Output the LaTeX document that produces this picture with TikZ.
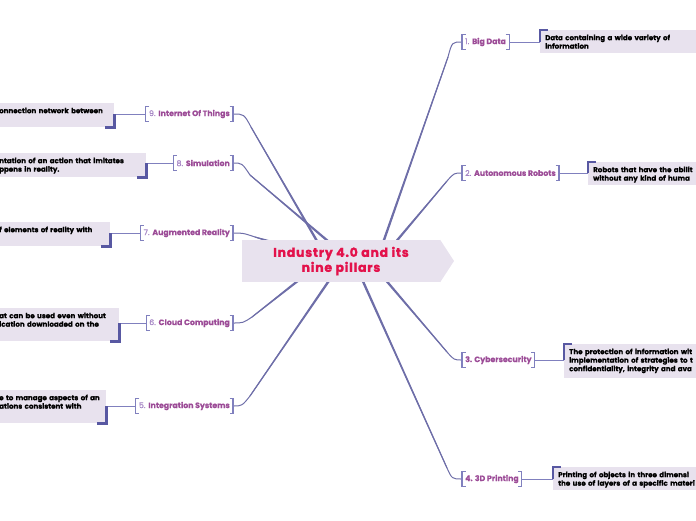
\documentclass[tikz,border=0pt]{standalone}
\usepackage{fontspec}
\setmainfont{Poppins}
\usetikzlibrary{calc,backgrounds}
\definecolor{lav}{HTML}{E8E2EE}
\definecolor{brkc}{HTML}{8080BE}
\definecolor{cornc}{HTML}{5858A2}
\definecolor{connc}{HTML}{6E6EA8}
\definecolor{ptxt}{HTML}{9C4C97}
\definecolor{pnum}{HTML}{A484C4}
\definecolor{ttl}{HTML}{E3124B}
\tikzset{
 title/.style={fill=lav, minimum width=198pt, minimum height=42pt, inner sep=0pt, align=center, text=ttl, font=\bfseries\fontsize{12.5}{15}\selectfont\addfontfeatures{LetterSpace=6,FakeBold=1.5}},
 pillar/.style={text=ptxt, font=\fontsize{7.8}{9}\selectfont\addfontfeatures{FakeBold=0.4}, inner xsep=3pt, inner ysep=0pt, minimum height=15pt},
 detail/.style={fill=lav, text=black, font=\bfseries\fontsize{7.1}{8.5}\selectfont\addfontfeatures{FakeBold=0.6}, align=left, anchor=north west, inner xsep=5pt, inner ysep=3pt, text height=7pt},
 brk/.style={draw=brkc, line width=1.1pt},
 cornerL/.style={draw=cornc, line width=2.4pt},
 connline/.style={draw=connc, line width=1pt},
 connthin/.style={draw=brkc, line width=1pt},
}
\newcommand\brackets[1]{%
 \draw[brk] ([xshift=3.5pt]#1.north west) -- (#1.north west) -- (#1.south west) -- ([xshift=3.5pt]#1.south west);
 \draw[brk] ([xshift=-3.5pt]#1.north east) -- (#1.north east) -- (#1.south east) -- ([xshift=-3.5pt]#1.south east);}
\newcommand\conn[5]{%
 \coordinate (K) at ($(#2)+(#3,#4)$);
 \coordinate (M) at ($(#2)+(#5,0)$);
 \fill[connc] ($(#1)!1.2pt!90:(K)$) -- ($(K)!0.5pt!-90:(#1)$) -- ($(K)!0.5pt!90:(#1)$) -- ($(#1)!1.2pt!-90:(K)$) -- cycle;
 \draw[connline] (#1) -- (K) .. controls (M) .. (#2);}
\newcommand\linkR[2]{%
 \draw[connthin] (#1.east) -- (#1.east -| #2.west);
 \draw[cornerL] (#1.east -| #2.west) -- (#2.north west) -- ([xshift=8pt]#2.north west);}
\newcommand\linkL[2]{%
 \draw[connthin] (#1.west) -- (#1.west -| #2.east);
 \draw[cornerL] (#1.west -| #2.east) -- (#2.south east) -- ([xshift=-9pt]#2.south east);}
\begin{document}
\begin{tikzpicture}[x=1pt,y=-1pt]
\useasboundingbox (0,0) rectangle (696,520);
\clip (0,0) rectangle (696,520);
% central topic
\node[title] (c) at (341,261) {Industry 4.0 and its\\nine pillars};
\fill[lav] (c.north east) -- (454,261) -- (c.south east) -- cycle;
% pillars
\node[pillar, anchor=west] (b1) at (462,42) {\textcolor{pnum}{1.} \textbf{Big Data}};
\node[pillar, anchor=west] (b2) at (462,173) {\textcolor{pnum}{2.} \textbf{Autonomous Robots}};
\node[pillar, anchor=west] (b3) at (462,360) {\textbf{3. Cybersecurity}};
\node[pillar, anchor=west] (b4) at (462,479) {\textbf{4. 3D Printing}};
\node[pillar, anchor=east] (b9) at (233,114) {\textcolor{pnum}{9.} \textbf{Internet Of Things}};
\node[pillar, anchor=east] (b8) at (233,163) {\textcolor{pnum}{8.} \textbf{Simulation}};
\node[pillar, anchor=east] (b7) at (233,233) {\textcolor{pnum}{7.} \textbf{Augmented Reality}};
\node[pillar, anchor=east] (b6) at (233,323) {\textcolor{pnum}{6.} \textbf{Cloud Computing}};
\node[pillar, anchor=east] (b5) at (233,406) {\textcolor{pnum}{5.} \textbf{Integration Systems}};
\foreach \b in {b1,b2,b3,b4,b5,b6,b7,b8,b9} {\brackets{\b}}
% details right
\node[detail, text width=190pt, text depth=10pt] (d1) at (540,30) {Data containing a wide variety of\\information};
\node[detail, text width=190pt, text depth=10pt] (d2) at (588,162) {Robots that have the abilit\\without any kind of huma};
\node[detail, text width=190pt, text depth=21pt] (d3) at (564,344) {The protection of information wit\\implementation of strategies to t\\confidentiality, integrity and ava};
\node[detail, text width=190pt, text depth=10pt] (d4) at (553,467) {Printing of objects in three dimensi\\the use of layers of a specific materi};
% details left
\node[detail, text width=110pt, text depth=11pt] (d9) at (-6,103) {onnection network between};
\node[detail, text width=142pt, text depth=11pt] (d8) at (-6,153) {ntation of an action that imitates\\ppens in reality.};
\node[detail, text width=106pt, text depth=11pt] (d7) at (-6,222) {f elements of reality with};
\node[detail, text width=115pt, text depth=20pt] (d6) at (-6,308) {at can be used even without\\ication downloaded on the};
\node[detail, text width=102pt, text depth=20pt] (d5) at (-6,390) {\mbox{e to manage aspects of an}\\ations consistent with};
\linkR{b1}{d1}
\linkR{b2}{d2}
\linkR{b3}{d3}
\linkR{b4}{d4}
\linkL{b9}{d9}
\linkL{b8}{d8}
\linkL{b7}{d7}
\linkL{b6}{d6}
\linkL{b5}{d5}
% connectors from the centre
\begin{scope}[on background layer]
\coordinate (s1) at ([xshift=42pt,yshift=-3pt]c.north);
\coordinate (s2) at ([xshift=54pt,yshift=-3pt]c.north);
\coordinate (s3) at ([xshift=44pt,yshift=3pt]c.south);
\coordinate (s4) at ([xshift=21pt,yshift=3pt]c.south);
\coordinate (s9) at ([xshift=-23pt,yshift=-3pt]c.north);
\coordinate (s8) at ([xshift=-11pt,yshift=-3pt]c.north);
\coordinate (s7) at ([xshift=33pt,yshift=-3pt]c.north west);
\coordinate (s6) at ([xshift=-41pt,yshift=3pt]c.south);
\coordinate (s5) at ([xshift=-11pt,yshift=3pt]c.south);
\conn{s1}{b1.west}{-14}{15}{-10}
\conn{s2}{b2.west}{-15}{8}{-8}
\conn{s3}{b3.west}{-15}{-8}{-8}
\conn{s4}{b4.west}{-15}{-11}{-10}
\conn{s9}{b9.east}{18}{13}{11}
\conn{s8}{b8.east}{17}{12}{9}
\conn{s7}{b7.east}{22}{4}{10}
\conn{s6}{b6.east}{19}{-6}{10}
\conn{s5}{b5.east}{17}{-10}{9}
\end{scope}
\end{tikzpicture}
\end{document}
